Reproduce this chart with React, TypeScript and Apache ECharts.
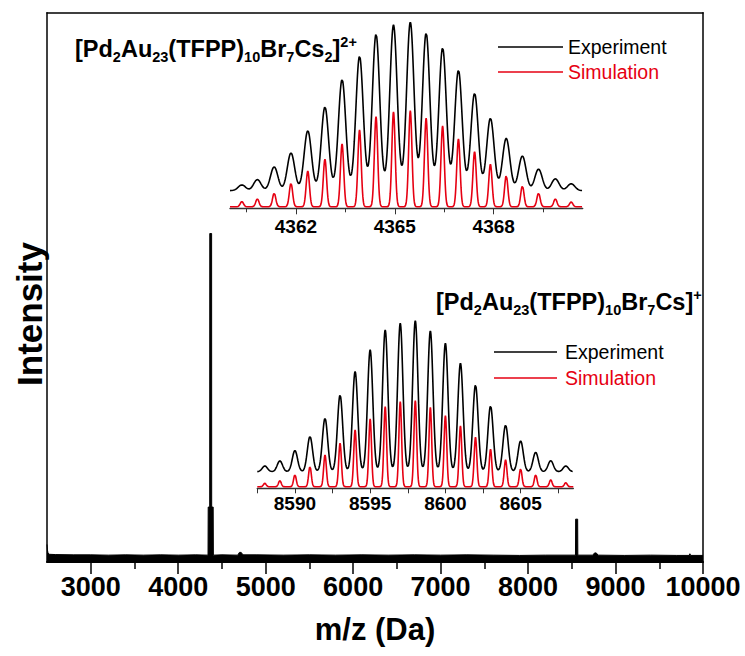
import React, { useEffect, useRef } from "react";
import * as echarts from "echarts";

const SANS = '"Liberation Sans", Arial, Helvetica, sans-serif';
const INK = "#000000";
const RED = "#e60012";

// Survey spectrum: m/z (Da) and relative intensity (%)
const surveyMz = [
  2500, 2505, 2512, 2530, 2600, 2800, 3000, 3200, 3400, 3600, 3800, 4000, 4200,
  4341, 4343, 4360, 4361, 4382, 4383, 4400, 4402,
  4500, 4680, 4700, 4720, 4740, 4900, 5200, 5500, 5800, 6100, 6400, 6700, 7000,
  7300, 7600, 7900, 8200, 8542, 8544, 8567, 8569, 8740, 8760, 8780, 8800, 9100,
  9400, 9700, 9840, 9850, 9860, 10000,
];
const surveyIntensity = [
  3.2, 2.2, 1.6, 1.4, 1.35, 1.3, 1.3, 1.25, 1.3, 1.25, 1.3, 1.25, 1.3,
  1.25, 10.0, 10.0, 59.8, 59.8, 10.0, 10.0, 1.25,
  1.3, 1.25, 1.75, 1.75, 1.3, 1.3, 1.25, 1.3, 1.25, 1.3, 1.25, 1.3, 1.25,
  1.3, 1.25, 1.2, 1.25, 1.25, 7.8, 7.8, 1.25, 1.25, 1.65, 1.65, 1.25, 1.2,
  1.25, 1.2, 1.2, 1.5, 1.2, 1.2,
];
const surveyMajorTicks = [3000, 4000, 5000, 6000, 7000, 8000, 9000, 10000];
const surveyMinorTicks = [3500, 4500, 5500, 6500, 7500, 8500, 9500];

// [Pd2Au23(TFPP)10Br7Cs2]2+ isotope envelope
const dicationRange = [4360, 4370.7];
const dicationPeaks = [
  4360.36, 4360.83, 4361.34, 4361.85, 4362.36, 4362.88, 4363.4, 4363.93, 4364.43,
  4364.96, 4365.47, 4365.95, 4366.45, 4366.93, 4367.42, 4367.9, 4368.38, 4368.87,
  4369.36, 4369.87, 4370.35,
];
const dicationExperiment = [
  3.0, 5.8, 12.5, 19.8, 31.5, 44.0, 58.5, 70.8, 82.4, 87.2, 88.6, 83.0, 75.2, 63.4,
  51.2, 38.1, 27.5, 18.2, 11.3, 6.2, 3.6,
];
const dicationSimulation = [
  2.7, 4.1, 7.1, 12.4, 18.8, 25.0, 33.0, 40.4, 47.4, 50.0, 50.6, 46.6, 42.5, 35.7,
  29.0, 22.4, 16.4, 10.9, 7.1, 4.1, 2.5,
];
const dicationExpBaseline = 9.3;
const dicationSimBaseline = 0.8;
const dicationExpSigma = 0.112;
const dicationSimSigma = 0.05;
const dicationLabelTicks = [4362, 4365, 4368];
const dicationMinorTicks = [4360.5, 4363.5, 4366.5, 4369.5];

// [Pd2Au23(TFPP)10Br7Cs]+ isotope envelope
const cationRange = [8587.5, 8608.5];
const cationPeaks = [
  8588, 8589, 8590, 8591, 8592, 8593, 8594, 8595, 8596, 8597, 8598, 8599, 8600,
  8601, 8602, 8603, 8604, 8605, 8606, 8607, 8608,
];
const cationExperiment = [
  3.0, 5.7, 11.1, 18.5, 28.1, 40.4, 52.7, 64.1, 74.6, 78.1, 79.5, 74.1, 67.6, 57.1,
  45.7, 34.6, 24.5, 16.2, 10.2, 5.8, 3.0,
];
const cationSimulation = [
  1.8, 3.2, 6.2, 10.6, 16.7, 22.9, 29.9, 35.7, 42.1, 44.8, 45.3, 41.8, 37.4, 32.0,
  26.0, 19.7, 14.1, 9.4, 6.2, 3.6, 2.1,
];
const cationExpBaseline = 8.74;
const cationSimBaseline = 0.84;
const cationExpSigma = 0.175;
const cationSimSigma = 0.09;
const cationLabelTicks = [8590, 8595, 8600, 8605];
const cationTicks = [8587.5, 8590, 8592.5, 8595, 8597.5, 8600, 8602.5, 8605, 8607.5];

// Gaussian-broadened profile of a set of isotope peaks
function isotopeProfile(
  centers: number[],
  heights: number[],
  sigma: number,
  baseline: number,
  range: number[],
  step: number
): number[][] {
  const n = Math.round((range[1] - range[0]) / step);
  const out: number[][] = [];
  for (let k = 0; k <= n; k++) {
    const x = range[0] + k * step;
    let y = baseline;
    for (let i = 0; i < centers.length; i++) {
      const d = (x - centers[i]) / sigma;
      y += heights[i] * Math.exp(-0.5 * d * d);
    }
    out.push([Number(x.toFixed(4)), y]);
  }
  return out;
}

const plain = (v: number) => String(v);

function formula(text: string, x: number, y: number) {
  return {
    type: "text",
    x,
    y,
    style: {
      text,
      verticalAlign: "middle",
      align: "left",
      rich: {
        m: { fontSize: 23.5, fontWeight: "bold", fontFamily: SANS, color: INK, lineHeight: 30, verticalAlign: "middle" },
        b: { fontSize: 14.5, fontWeight: "bold", fontFamily: SANS, color: INK, lineHeight: 14, verticalAlign: "bottom" },
        p: { fontSize: 14.5, fontWeight: "bold", fontFamily: SANS, color: INK, lineHeight: 8, verticalAlign: "top" },
      },
    },
  };
}

function legendRow(x1: number, x2: number, y: number, color: string, label: string, textX: number) {
  return [
    { type: "line", shape: { x1, y1: y, x2, y2: y }, style: { stroke: color, lineWidth: 1.6 } },
    {
      type: "text",
      x: textX,
      y,
      style: { text: label, fill: color, fontSize: 19.5, fontFamily: SANS, align: "left", verticalAlign: "middle" },
    },
  ];
}

export default function App() {
  const ref = useRef<HTMLDivElement>(null);

  useEffect(() => {
    if (!ref.current) return;
    const chart = echarts.init(ref.current, null, { renderer: "svg" });

    const survey = surveyMz.map((m, i) => [m, surveyIntensity[i]]);

    const insetTickLabel = { fontSize: 19, fontWeight: "bold", fontFamily: SANS, color: INK, formatter: plain };
    const frameLine = { show: true, lineStyle: { color: INK, width: 1.5 } };

    chart.setOption({
      animation: false,
      backgroundColor: "#ffffff",
      grid: [
        { left: 47, right: 42, top: 12.7, bottom: 94 },
        { left: 230, right: 162.3, top: 18.3, bottom: 447.7 },
        { left: 257.3, right: 171.7, top: 298.3, bottom: 167.7 },
      ],
      xAxis: [
        {
          type: "value",
          gridIndex: 0,
          position: "bottom",
          min: 2500,
          max: 10000,
          name: "m/z (Da)",
          nameLocation: "middle",
          nameGap: 52,
          nameTextStyle: { fontSize: 31, fontWeight: "bold", fontFamily: SANS, color: INK },
          axisLine: { show: true, lineStyle: { color: INK, width: 2 } },
          axisTick: { show: true, inside: false, length: 12, customValues: surveyMajorTicks, lineStyle: { color: INK, width: 1.5 } },
          axisLabel: { show: true, customValues: surveyMajorTicks, margin: 11, fontSize: 27, fontWeight: "bold", fontFamily: SANS, color: INK, formatter: plain },
          splitLine: { show: false },
        },
        {
          type: "value",
          gridIndex: 0,
          position: "bottom",
          min: 2500,
          max: 10000,
          axisLine: { show: false },
          axisTick: { show: true, inside: false, length: 7, customValues: surveyMinorTicks, lineStyle: { color: INK, width: 1.5 } },
          axisLabel: { show: false },
          splitLine: { show: false },
        },
        {
          type: "value",
          gridIndex: 0,
          position: "top",
          min: 2500,
          max: 10000,
          axisLine: frameLine,
          axisTick: { show: false },
          axisLabel: { show: false },
          splitLine: { show: false },
        },
        {
          type: "value",
          gridIndex: 1,
          min: dicationRange[0],
          max: dicationRange[1],
          axisLine: { show: true, lineStyle: { color: "#333333", width: 1.4 } },
          axisTick: { show: true, inside: false, length: 6, customValues: dicationLabelTicks, lineStyle: { color: "#333333", width: 1 } },
          axisLabel: { show: true, customValues: dicationLabelTicks, margin: 9, ...insetTickLabel },
          splitLine: { show: false },
        },
        {
          type: "value",
          gridIndex: 1,
          position: "bottom",
          min: dicationRange[0],
          max: dicationRange[1],
          axisLine: { show: false },
          axisTick: { show: true, inside: false, length: 4, customValues: dicationMinorTicks, lineStyle: { color: "#333333", width: 1 } },
          axisLabel: { show: false },
          splitLine: { show: false },
        },
        {
          type: "value",
          gridIndex: 2,
          min: cationRange[0],
          max: cationRange[1],
          axisLine: { show: true, lineStyle: { color: "#333333", width: 1.4 } },
          axisTick: { show: true, inside: false, length: 5, customValues: cationTicks, lineStyle: { color: "#333333", width: 1 } },
          axisLabel: { show: true, customValues: cationLabelTicks, margin: 6, ...insetTickLabel },
          splitLine: { show: false },
        },
      ],
      yAxis: [
        {
          type: "value",
          gridIndex: 0,
          position: "left",
          min: 0,
          max: 100,
          axisLine: frameLine,
          axisTick: { show: false },
          axisLabel: { show: false },
          splitLine: { show: false },
        },
        {
          type: "value",
          gridIndex: 0,
          position: "right",
          min: 0,
          max: 100,
          axisLine: frameLine,
          axisTick: { show: false },
          axisLabel: { show: false },
          splitLine: { show: false },
        },
        { type: "value", gridIndex: 1, min: 0, max: 100, show: false },
        { type: "value", gridIndex: 2, min: 0, max: 100, show: false },
      ],
      series: [
        {
          name: "Survey",
          type: "line",
          xAxisIndex: 0,
          yAxisIndex: 0,
          data: survey,
          showSymbol: false,
          symbol: "none",
          lineStyle: { color: INK, width: 1 },
          areaStyle: { color: INK, opacity: 1 },
        },
        {
          name: "Experiment",
          type: "line",
          xAxisIndex: 3,
          yAxisIndex: 2,
          data: isotopeProfile(dicationPeaks, dicationExperiment, dicationExpSigma, dicationExpBaseline, dicationRange, 0.01),
          symbol: "none",
          lineStyle: { color: INK, width: 1.6 },
        },
        {
          name: "Simulation",
          type: "line",
          xAxisIndex: 3,
          yAxisIndex: 2,
          data: isotopeProfile(dicationPeaks, dicationSimulation, dicationSimSigma, dicationSimBaseline, dicationRange, 0.01),
          symbol: "none",
          lineStyle: { color: RED, width: 1.6 },
        },
        {
          name: "Experiment",
          type: "line",
          xAxisIndex: 5,
          yAxisIndex: 3,
          data: isotopeProfile(cationPeaks, cationExperiment, cationExpSigma, cationExpBaseline, cationRange, 0.02),
          symbol: "none",
          lineStyle: { color: INK, width: 1.6 },
        },
        {
          name: "Simulation",
          type: "line",
          xAxisIndex: 5,
          yAxisIndex: 3,
          data: isotopeProfile(cationPeaks, cationSimulation, cationSimSigma, cationSimBaseline, cationRange, 0.02),
          symbol: "none",
          lineStyle: { color: RED, width: 1.6 },
        },
      ],
      graphic: [
        formula("{m|[Pd}{b|2}{m|Au}{b|23}{m|(TFPP)}{b|10}{m|Br}{b|7}{m|Cs}{b|2}{m|]}{p|2+}", 75, 49),
        formula("{m|[Pd}{b|2}{m|Au}{b|23}{m|(TFPP)}{b|10}{m|Br}{b|7}{m|Cs]}{p|+}", 436, 302),
        ...legendRow(498, 563, 47, INK, "Experiment", 568),
        ...legendRow(498, 563, 72, RED, "Simulation", 568),
        ...legendRow(494, 557, 352, INK, "Experiment", 565),
        ...legendRow(494, 557, 378, RED, "Simulation", 565),
        {
          type: "text",
          x: 29,
          y: 314,
          rotation: Math.PI / 2,
          style: { text: "Intensity", fill: INK, fontSize: 35, fontWeight: "bold", fontFamily: SANS, align: "center", verticalAlign: "middle" },
        },
      ],
    });

    return () => chart.dispose();
  }, []);

  return (
    <div
      ref={ref}
      style={{ position: "fixed", left: 0, top: 0, width: 745, height: 656, background: "#ffffff" }}
    />
  );
}
